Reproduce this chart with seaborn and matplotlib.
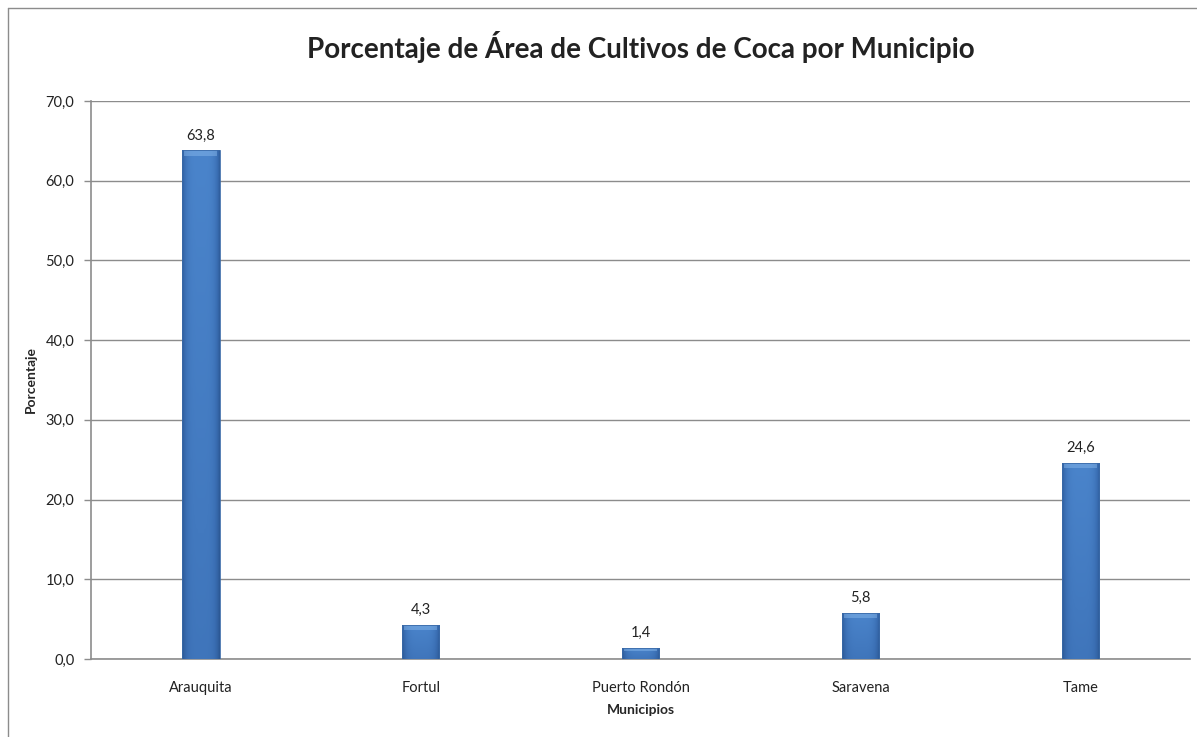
import numpy as np
import pandas as pd
import matplotlib
matplotlib.use("Agg")
import matplotlib.pyplot as plt
from matplotlib.lines import Line2D
from matplotlib.colors import LinearSegmentedColormap
import seaborn as sns

# data
municipios = ["Arauquita", "Fortul", "Puerto Rondón", "Saravena", "Tame"]
porcentaje = [63.8, 4.3, 1.4, 5.8, 24.6]
y_ticks = [0, 10, 20, 30, 40, 50, 60, 70]

df = pd.DataFrame({"Municipio": municipios, "Porcentaje": porcentaje})

sns.set_theme(style="white")
plt.rcParams["font.family"] = ["Lato", "DejaVu Sans"]

fig = plt.figure(figsize=(11.97, 7.37), dpi=100)
ax = fig.add_axes([0.0760, 0.1058, 0.9185, 0.7572])

sns.barplot(data=df, x="Municipio", y="Porcentaje", color="#4279c0",
            width=0.17, edgecolor="#3a6aa8", linewidth=0.6, ax=ax, zorder=3)

ax.set_ylim(0, 70)
ax.set_xlim(-0.5, len(municipios) - 0.5)

# Excel-like bevel: slightly darker sides and bottom, light cap on top
shade = LinearSegmentedColormap.from_list("bevel", ["#2b5793", "#3a6eb3", "#4a84cb"])
xs = np.linspace(0, 1, 64)
ys = np.linspace(0, 1, 128)
side = 1 - 0.5 * (np.abs(xs - 0.5) * 2) ** 4
height = 0.8 + 0.2 * ys
grad = np.outer(height, side)
for p in ax.patches:
    x0, w, h = p.get_x(), p.get_width(), p.get_height()
    im = ax.imshow(grad, extent=[x0, x0 + w, 0, h], origin="lower", aspect="auto",
                   cmap=shade, vmin=0.4, vmax=1, zorder=3.5, interpolation="bilinear")
    im.set_clip_path(p)
    cap = min(0.7, h * 0.3)
    ax.fill_between([x0 + w * 0.06, x0 + w * 0.94], h - cap, h, color="#8cbcee", alpha=0.45,
                    zorder=3.6, linewidth=0)
    p.set_facecolor("none")
    p.set_zorder(4)
ax.set_xlim(-0.5, len(municipios) - 0.5)
ax.set_ylim(0, 70)

ax.set_yticks(y_ticks)
ax.set_yticklabels([f"{v:.1f}".replace(".", ",") for v in y_ticks], fontsize=10.5, color="#222222")
ax.yaxis.grid(True, color="#8c8c8c", linewidth=1.0, zorder=0)
ax.set_axisbelow(True)

# category labels, tick marks on category boundaries like Excel
ax.set_xticks(range(len(municipios)))
ax.set_xticklabels(municipios, fontsize=10.5, color="#222222")
ax.tick_params(axis="x", length=0, pad=16)
ax.set_xticks(np.arange(-0.5, len(municipios)), minor=True)
ax.tick_params(axis="x", which="minor", length=5, color="#8c8c8c", width=1, direction="out")
ax.tick_params(axis="y", length=5, color="#8c8c8c", width=1, direction="out", pad=7, left=True)

for s in ["top", "right"]:
    ax.spines[s].set_visible(False)
for s in ["left", "bottom"]:
    ax.spines[s].set_color("#8c8c8c")
    ax.spines[s].set_linewidth(1.2)

# value labels above each bar
for i, v in enumerate(porcentaje):
    ax.text(i, v + 1.0, f"{v:.1f}".replace(".", ","), ha="center", va="bottom",
            fontsize=10.5, color="#222222")

ax.set_xlabel("Municipios", fontsize=10, fontweight="bold", labelpad=6)
ax.set_ylabel("Porcentaje", fontsize=10, fontweight="bold", labelpad=6)

fig.text(0.535, 0.936, "Porcentaje de Área de Cultivos de Coca por Municipio",
         ha="center", va="center", fontsize=20, fontweight="bold", color="#222222")

# outer chart-area border (top and left visible)
fig.add_artist(Line2D([8 / 1197, 1.0], [1 - 8 / 737, 1 - 8 / 737], color="#8c8c8c", linewidth=1))
fig.add_artist(Line2D([8 / 1197, 8 / 1197], [0.0, 1 - 8 / 737], color="#8c8c8c", linewidth=1))

fig.savefig("out.png", dpi=100)
